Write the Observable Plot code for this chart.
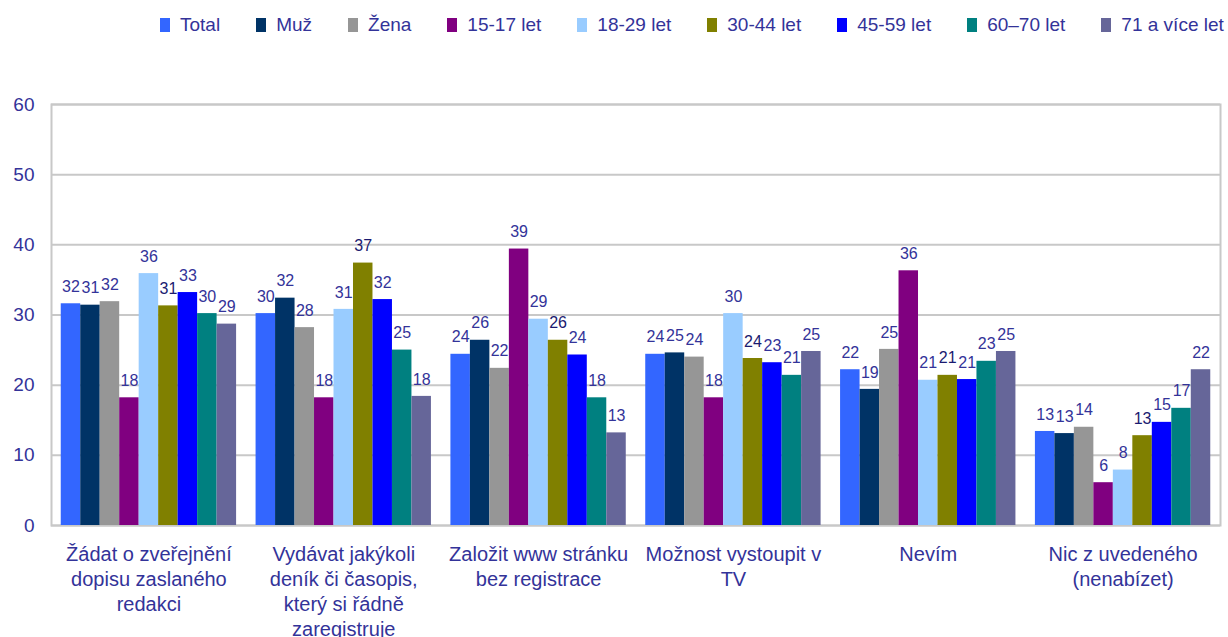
<!DOCTYPE html>
<html><head><meta charset="utf-8">
<script src="https://cdn.jsdelivr.net/npm/d3@7"></script>
<script src="https://cdn.jsdelivr.net/npm/@observablehq/plot@0.6"></script>
<style>
body{margin:0;background:#fff;font-family:"Liberation Sans",Arial,sans-serif;}
#legend{display:flex;align-items:center;height:50px;padding-left:160px;gap:36px;font-size:19px;color:#333399;white-space:nowrap;overflow:hidden;width:1068px;}
.item{display:flex;align-items:center;}
.sw{width:10px;height:14px;margin-right:10px;}
</style></head><body>
<div id="legend"></div><div id="chart"></div>
<script>
const categories = [
  "Žádat o zveřejnění\ndopisu zaslaného\nredakci",
  "Vydávat jakýkoli\ndeník či časopis,\nkterý si řádně\nzaregistruje",
  "Založit www stránku\nbez registrace",
  "Možnost vystoupit v\nTV",
  "Nevím",
  "Nic z uvedeného\n(nenabízet)"
];
const series = ["Total","Muž","Žena","15-17 let","18-29 let","30-44 let","45-59 let","60–70 let","71 a více let"];
const colors = ["#3366FF","#003366","#969696","#800080","#99CCFF","#808000","#0000FF","#008080","#666699"];
const yTicks = [0,10,20,30,40,50,60];

const total   = [31.6, 30.2, 24.4, 24.4, 22.2, 13.4];
const muz     = [31.4, 32.4, 26.4, 24.6, 19.4, 13.1];
const zena    = [31.9, 28.2, 22.4, 24.0, 25.1, 14.0];
const age1517 = [18.2, 18.2, 39.4, 18.2, 36.3, 6.1];
const age1829 = [35.9, 30.8, 29.4, 30.2, 20.7, 7.9];
const age3044 = [31.3, 37.4, 26.4, 23.8, 21.4, 12.8];
const age4559 = [33.2, 32.2, 24.3, 23.2, 20.8, 14.7];
const age6070 = [30.2, 25.0, 18.2, 21.4, 23.4, 16.7];
const age71   = [28.7, 18.4, 13.2, 24.8, 24.8, 22.2];
const values = [total, muz, zena, age1517, age1829, age3044, age4559, age6070, age71];

// band slots: 9 series per category plus one empty slot between categories
const key = (i, s) => i + "|" + s;
const xDomain = [];
categories.forEach((c, i) => {
  series.forEach(s => xDomain.push(key(i, s)));
  if (i < categories.length - 1) xDomain.push(key(i, "gap"));
});
const centerSeries = series[4];
const tickKeys = categories.map((c, i) => key(i, centerSeries));

const data = [];
categories.forEach((c, i) => series.forEach((s, j) => data.push({category: c, series: s, slot: key(i, s), value: values[j][i]})));

const legend = document.getElementById("legend");
series.forEach((s, j) => {
  const it = document.createElement("div"); it.className = "item";
  const sw = document.createElement("span"); sw.className = "sw"; sw.style.background = colors[j];
  const lb = document.createElement("span"); lb.textContent = s;
  it.appendChild(sw); it.appendChild(lb); legend.appendChild(it);
});

const font = "'Liberation Sans', Arial, sans-serif";
const chart = Plot.plot({
  width: 1228, height: 587,
  marginTop: 54, marginLeft: 51, marginRight: 8, marginBottom: 112,
  style: {fontFamily: font, color: "#333399", background: "#fff"},
  x: {type: "band", domain: xDomain, paddingInner: 0, paddingOuter: 0.5, round: false, label: null},
  y: {domain: [0, 60], label: null},
  color: {domain: series, range: colors},
  marks: [
    Plot.ruleY(yTicks, {stroke: "#c8c8c8", strokeWidth: 2}),
    Plot.frame({stroke: "#c8c8c8", strokeWidth: 2}),
    Plot.barY(data, {x: "slot", y: "value", fill: "series"}),
    Plot.text(data, {filter: d => d.series !== "30-44 let", x: "slot", y: "value", text: d => d3.format(".0f")(d.value), dy: -17, fill: "#333399", fontSize: 16}),
    Plot.text(data, {filter: d => d.series === "30-44 let", x: "slot", y: "value", text: d => d3.format(".0f")(d.value), dy: -17, fill: "#1a1a70", fontSize: 16}),
    Plot.axisY({ticks: yTicks, tickSize: 0, tickPadding: 17, fontSize: 19, label: null}),
    Plot.axisX({ticks: tickKeys, tickFormat: k => categories[+k.split("|")[0]], tickSize: 0, tickPadding: 18, fontSize: 20, lineHeight: 1.25, label: null})
  ]
});
document.getElementById("chart").appendChild(chart);
</script>
</body></html>
